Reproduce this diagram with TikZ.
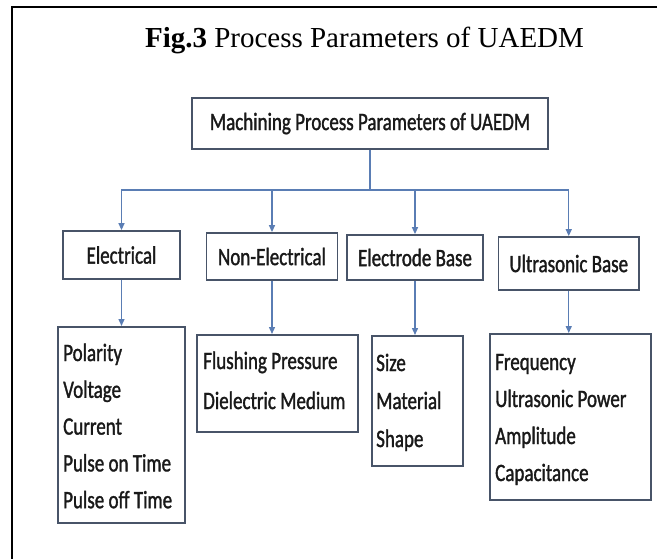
\documentclass[tikz,border=0pt]{standalone}
\usepackage{fontspec}
\setmainfont{Liberation Serif}
\newfontfamily\cf[FakeStretch=0.76,FakeBold=1.3]{Carlito}
\usetikzlibrary{arrows.meta}
\definecolor{linec}{RGB}{90,125,180}
\definecolor{boxc}{RGB}{72,84,104}
\begin{document}
\begin{tikzpicture}[x=1pt,y=-1pt,
  box/.style={draw=boxc,line width=1.8pt,inner sep=0pt},
  lbl/.style={font=\cf\fontsize{25}{30}\selectfont,text=black!90},
  item/.style={font=\cf\fontsize{25}{30}\selectfont,text=black!90,inner sep=0pt,anchor=base west},
  conn/.style={draw=linec,line width=1.4pt},
  arr/.style={conn,-{Triangle[length=7pt,width=6pt]}}]
\useasboundingbox (0,0) rectangle (667,559);
\fill[white] (0,0) rectangle (667,559);
% frame
\draw[line width=2pt] (657,7.5) -- (11.5,7.5) -- (11.5,559);
% title
\node[font=\fontsize{29}{35}\selectfont,anchor=base,inner sep=0pt] (title) at (364.5,48)
  {\textbf{Fig.3} Process Parameters of UAEDM};
% top box
\node[box,lbl,minimum width=356pt,minimum height=51pt] (top) at (370,123.5)
  {Machining Process Parameters of UAEDM};
% middle boxes
\node[box,lbl,minimum width=117pt,minimum height=48pt] (elec) at (121.5,255) {Electrical};
\node[box,lbl,minimum width=131pt,minimum height=47pt] (nonel) at (272,256.5) {Non-Electrical};
\node[box,lbl,minimum width=136pt,minimum height=45pt] (elecb) at (415,257.5) {Electrode Base};
\node[box,lbl,minimum width=140.5pt,minimum height=53pt] (ultra) at (568.75,263.5) {Ultrasonic Base};
% detail boxes
\node[box,anchor=north west,minimum width=127pt,minimum height=196pt] (d1) at (57,326) {};
\node[box,anchor=north west,minimum width=161pt,minimum height=97pt] (d2) at (196,334) {};
\node[box,anchor=north west,minimum width=91pt,minimum height=130pt] (d3) at (371,335) {};
\node[box,anchor=north west,minimum width=161pt,minimum height=166pt] (d4) at (489,333) {};
% detail texts
\foreach \t [count=\i] in {Polarity,Voltage,Current,Pulse on Time,Pulse off Time}
  \node[item] (a\i) at (63,{361+(\i-1)*36.8}) {\t};
\foreach \t [count=\i] in {Flushing Pressure,Dielectric Medium}
  \node[item] (b\i) at (203,{369+(\i-1)*40}) {\t};
\foreach \t [count=\i] in {Size,Material,Shape}
  \node[item] (c\i) at (376,{371+(\i-1)*38}) {\t};
\foreach \t [count=\i] in {Frequency,Ultrasonic Power,Amplitude,Capacitance}
  \node[item] (u\i) at (495,{370+(\i-1)*37}) {\t};
% connectors
\coordinate (hub) at (370,190);
\draw[conn] (top.south) -- (hub);
\draw[arr] (hub) -| (elec.north);
\draw[arr] (hub) -| (nonel.north);
\draw[arr] (hub) -| (elecb.north);
\draw[arr] (hub) -| (ultra.north);
\draw[arr] (elec.south) -- (elec.south |- d1.north);
\draw[arr] (nonel.south) -- (nonel.south |- d2.north);
\draw[arr] (elecb.south) -- (elecb.south |- d3.north);
\draw[arr] (ultra.south) -- (ultra.south |- d4.north);
\end{tikzpicture}
\end{document}
